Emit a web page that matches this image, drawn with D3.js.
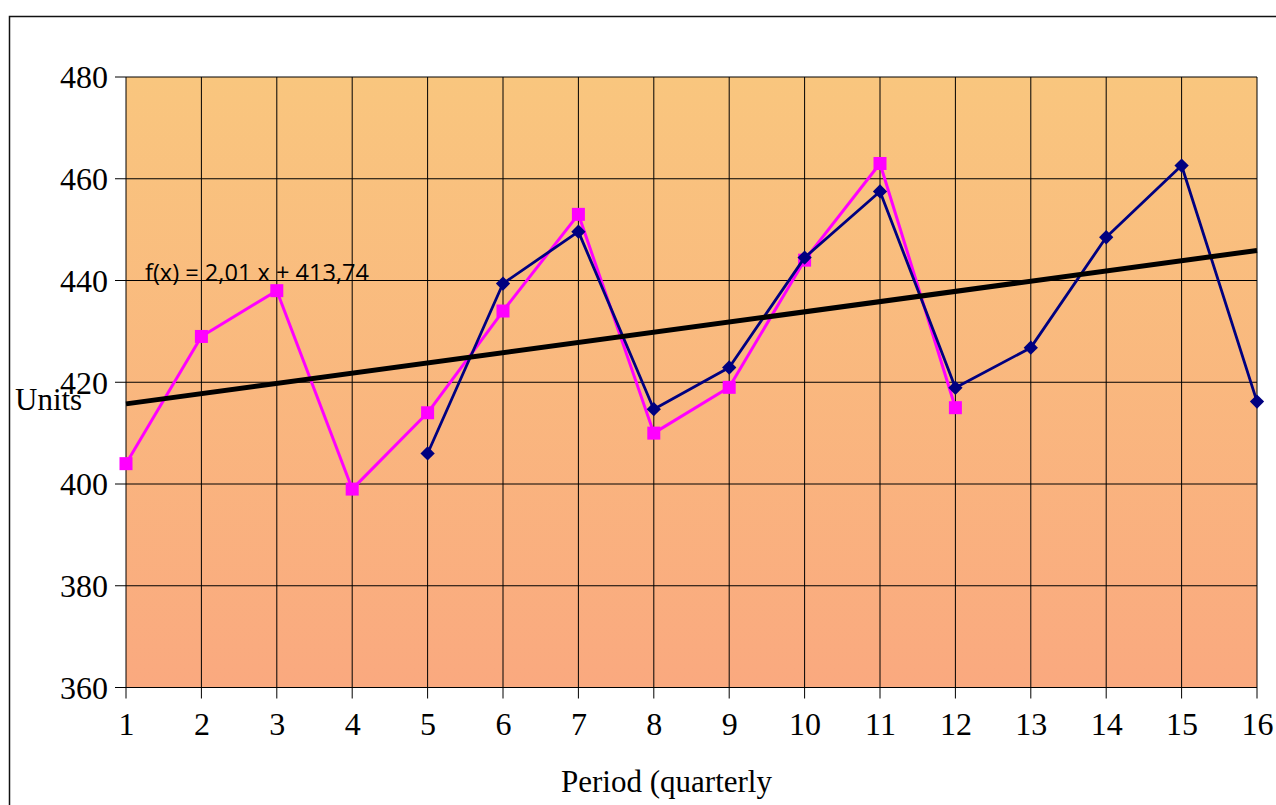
<!DOCTYPE html>
<html>
<head>
<meta charset="utf-8">
<script src="https://cdn.jsdelivr.net/npm/d3@7"></script>
<style>
  html, body { margin: 0; padding: 0; background: #fff; }
  svg { display: block; }
</style>
</head>
<body>
<svg id="chart" width="1276" height="805"></svg>
<script>
// Quarterly periods
const periods = d3.range(1, 17);

// Actual units (periods 1–12)
const actualPeriods = [1, 2, 3, 4, 5, 6, 7, 8, 9, 10, 11, 12];
const actualUnits = [404, 429, 438, 399, 414, 434, 453, 410, 419, 444, 463, 415];

// Second series (periods 5–16)
const fittedPeriods = [5, 6, 7, 8, 9, 10, 11, 12, 13, 14, 15, 16];
const fittedUnits = [406, 439.4, 449.6, 414.7, 422.9, 444.5, 457.5, 418.9, 426.8, 448.5, 462.6, 416.2];

// Linear trend f(x) = 2,01 x + 413,74
const trendSlope = 2.01;
const trendIntercept = 413.74;
const trendLabel = "f(x) = 2,01 x + 413,74";

const yTicks = [360, 380, 400, 420, 440, 460, 480];

const svg = d3.select("#chart");
const plotLeft = 126, plotRight = 1257, plotTop = 77, plotBottom = 687.5;

const x = d3.scaleLinear().domain([1, 16]).range([plotLeft, plotRight]);
const y = d3.scaleLinear().domain([360, 480]).range([plotBottom, plotTop]);

// Outer frame
svg.append("rect")
  .attr("x", 9.5).attr("y", 16.5)
  .attr("width", 1300).attr("height", 900)
  .attr("fill", "none").attr("stroke", "#111").attr("stroke-width", 1.5);

// Plot background gradient
const defs = svg.append("defs");
const grad = defs.append("linearGradient")
  .attr("id", "bg").attr("x1", 0).attr("y1", 0).attr("x2", 0).attr("y2", 1);
grad.append("stop").attr("offset", "0%").attr("stop-color", "#F9C67E");
grad.append("stop").attr("offset", "100%").attr("stop-color", "#FAA97F");

svg.append("rect")
  .attr("x", plotLeft).attr("y", plotTop)
  .attr("width", plotRight - plotLeft).attr("height", plotBottom - plotTop)
  .attr("fill", "url(#bg)");

// Grid with tick marks extending outside the plot
const grid = svg.append("g").attr("stroke", "#000").attr("stroke-width", 1);
grid.selectAll("line.v").data(periods).join("line")
  .attr("x1", d => x(d)).attr("x2", d => x(d))
  .attr("y1", plotTop).attr("y2", plotBottom + 11);
grid.selectAll("line.h").data(yTicks).join("line")
  .attr("x1", plotLeft - 11).attr("x2", plotRight)
  .attr("y1", d => y(d)).attr("y2", d => y(d));

// Axis labels
const serif = "'Liberation Serif', 'Times New Roman', serif";
const xAxis = svg.append("g")
  .attr("transform", `translate(0,${plotBottom})`)
  .call(d3.axisBottom(x).tickValues(periods).tickFormat(d3.format("d")).tickSize(0).tickPadding(0));
xAxis.select(".domain").remove();
xAxis.selectAll("text")
  .attr("y", 47.5).attr("dy", null)
  .attr("font-family", serif).attr("font-size", 32).attr("fill", "#000");

const yAxis = svg.append("g")
  .attr("transform", `translate(${plotLeft},0)`)
  .call(d3.axisLeft(y).tickValues(yTicks).tickSize(0).tickPadding(0));
yAxis.select(".domain").remove();
yAxis.selectAll("text")
  .attr("x", -18).attr("dy", "0.34em")
  .attr("font-family", serif).attr("font-size", 32).attr("fill", "#000");

// Axis titles
svg.append("text")
  .attr("x", 15).attr("y", 410)
  .attr("font-family", serif).attr("font-size", 31)
  .text("Units");
svg.append("text")
  .attr("x", 666.5).attr("y", 792).attr("text-anchor", "middle")
  .attr("font-family", serif).attr("font-size", 31)
  .text("Period (quarterly");

// Series lines and markers
const line = d3.line().x(d => x(d[0])).y(d => y(d[1]));
const actual = actualPeriods.map((p, i) => [p, actualUnits[i]]);
const fitted = fittedPeriods.map((p, i) => [p, fittedUnits[i]]);

svg.append("path").datum(actual)
  .attr("d", line).attr("fill", "none")
  .attr("stroke", "#FF00FF").attr("stroke-width", 3).attr("stroke-linejoin", "round");
svg.selectAll("rect.sq").data(actual).join("rect")
  .attr("x", d => x(d[0]) - 6.5).attr("y", d => y(d[1]) - 6.5)
  .attr("width", 13).attr("height", 13).attr("fill", "#FF00FF");

svg.append("path").datum(fitted)
  .attr("d", line).attr("fill", "none")
  .attr("stroke", "#000080").attr("stroke-width", 2.8).attr("stroke-linejoin", "round");
svg.selectAll("path.dia").data(fitted).join("path")
  .attr("d", d3.symbol().type(d3.symbolDiamond2).size(130))
  .attr("transform", d => `translate(${x(d[0])},${y(d[1])})`)
  .attr("fill", "#000080");

// Trend line
svg.append("line")
  .attr("x1", x(1)).attr("y1", y(trendSlope * 1 + trendIntercept))
  .attr("x2", x(16)).attr("y2", y(trendSlope * 16 + trendIntercept))
  .attr("stroke", "#000").attr("stroke-width", 5);

svg.append("text")
  .attr("x", 145).attr("y", 281)
  .attr("font-family", "'Open Sans', 'Liberation Sans', sans-serif")
  .attr("font-size", 23)
  .attr("textLength", 224).attr("lengthAdjust", "spacingAndGlyphs")
  .text(trendLabel);
</script>
</body>
</html>
